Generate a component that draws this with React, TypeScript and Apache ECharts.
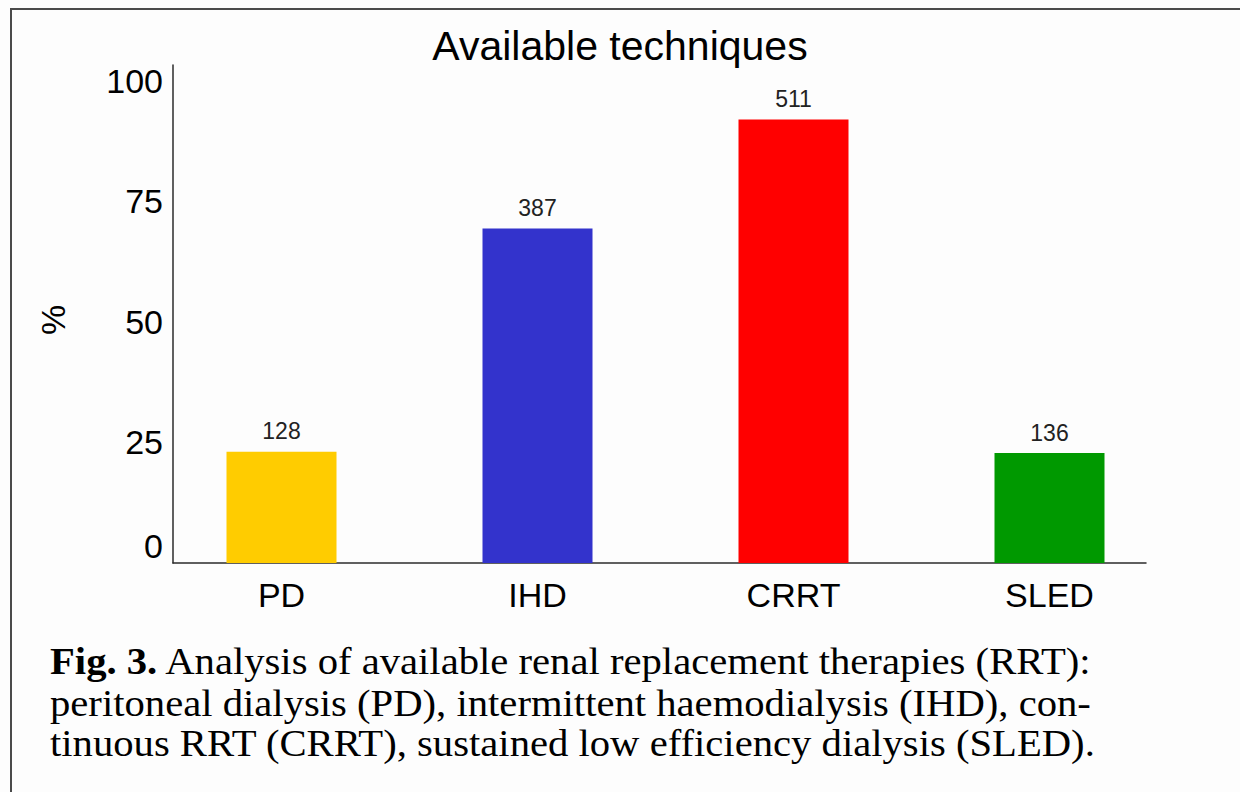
import React, { useEffect, useRef } from "react";
import * as echarts from "echarts";

const categories = ["PD", "IHD", "CRRT", "SLED"];
const percentValues = [23.1, 69.4, 92.0, 22.8];
const counts = [128, 387, 511, 136];
const barColors = ["#FFCC00", "#3333CC", "#FF0000", "#009900"];
const yMin = 0;
const yMax = 103.3;
const yInterval = 25;
const titleText = "Available techniques";
const yName = "%";
const captionBold = "Fig. 3.";
const captionLines = [
  " Analysis of available renal replacement therapies (RRT):",
  "peritoneal dialysis (PD), intermittent haemodialysis (IHD), con-",
  "tinuous RRT (CRRT), sustained low efficiency dialysis (SLED).",
];

const SANS = '"Liberation Sans", Arial, sans-serif';
const SERIF = '"Liberation Serif", "Times New Roman", serif';

export default function App() {
  const ref = useRef<HTMLDivElement>(null);
  useEffect(() => {
    if (!ref.current) return;
    const chart = echarts.init(ref.current, undefined, { renderer: "svg" });
    const captionFont = `38px ${SERIF}`;
    const capScale = 1.07;
    chart.setOption({
      animation: false,
      backgroundColor: "#fdfdfd",
      textStyle: { fontFamily: SANS },
      title: {
        text: titleText,
        left: "center",
        top: 25,
        padding: 0,
        textStyle: { fontFamily: SANS, fontSize: 41, fontWeight: "normal", color: "#000" },
      },
      grid: [
        { left: 173, right: 94, top: 65, bottom: 229 },
        { left: 153.5, right: 62.5, top: 65, bottom: 229 },
      ],
      xAxis: [
        {
          type: "value",
          gridIndex: 0,
          min: 0,
          max: 1,
          axisLine: { show: true, onZero: false, lineStyle: { color: "#2b2b2b", width: 1.5 } },
          axisTick: { show: false },
          axisLabel: { show: false },
          splitLine: { show: false },
        },
        {
          type: "category",
          gridIndex: 1,
          data: categories,
          axisLine: { show: false },
          axisTick: { show: false },
          axisLabel: { fontFamily: SANS, fontSize: 34, color: "#000", margin: 15 },
        },
      ],
      yAxis: [
        {
          type: "value",
          gridIndex: 0,
          min: yMin,
          max: yMax,
          interval: yInterval,
          name: yName,
          nameLocation: "middle",
          nameRotate: 90,
          nameGap: 103,
          nameTextStyle: { fontFamily: SANS, fontSize: 34, color: "#000", padding: [0, 12, 0, 0] },
          axisLine: { show: true, onZero: false, lineStyle: { color: "#2b2b2b", width: 1.5 } },
          axisTick: { show: false },
          splitLine: { show: false },
          axisLabel: {
            fontFamily: SANS,
            fontSize: 34,
            color: "#000",
            margin: 10,
            formatter: (v: number) =>
              Math.abs(v % yInterval) < 1e-6 ? (v === 0 ? "{z|0}" : String(v)) : "",
            rich: {
              z: { fontFamily: SANS, fontSize: 34, color: "#000", padding: [0, 0, 34, 0] },
            },
          },
        },
        {
          type: "value",
          gridIndex: 1,
          min: yMin,
          max: yMax,
          show: false,
        },
      ],
      series: [
        {
          type: "bar",
          xAxisIndex: 1,
          yAxisIndex: 1,
          barWidth: 110,
          data: percentValues.map((v, i) => ({ value: v, itemStyle: { color: barColors[i] } })),
          label: {
            show: true,
            position: "top",
            distance: 9,
            fontFamily: SANS,
            fontSize: 23,
            color: "#222",
            formatter: (p: any) => String(counts[p.dataIndex]),
          },
        },
      ],
      graphic: [
        {
          type: "line",
          shape: { x1: 10, y1: 9, x2: 1240, y2: 9 },
          style: { stroke: "#4a4a4a", lineWidth: 2 },
        },
        {
          type: "line",
          shape: { x1: 11, y1: 8, x2: 11, y2: 792 },
          style: { stroke: "#4a4a4a", lineWidth: 2 },
        },
        {
          type: "text",
          x: 50,
          y: 661,
          scaleX: capScale,
          style: {
            text: `{b|${captionBold}}${captionLines[0]}`,
            font: captionFont,
            fill: "#000",
            verticalAlign: "middle",
            rich: {
              b: { fontFamily: SERIF, fontSize: 38, fontWeight: "bold", fill: "#000" },
            },
          },
        },
        {
          type: "text",
          x: 50,
          y: 703,
          scaleX: capScale,
          style: { text: captionLines[1], font: captionFont, fill: "#000", verticalAlign: "middle" },
        },
        {
          type: "text",
          x: 50,
          y: 743,
          scaleX: capScale,
          style: { text: captionLines[2], font: captionFont, fill: "#000", verticalAlign: "middle" },
        },
      ],
    });
    return () => chart.dispose();
  }, []);
  return (
    <div
      ref={ref}
      style={{ position: "fixed", left: 0, top: 0, width: 1240, height: 792 }}
    />
  );
}
